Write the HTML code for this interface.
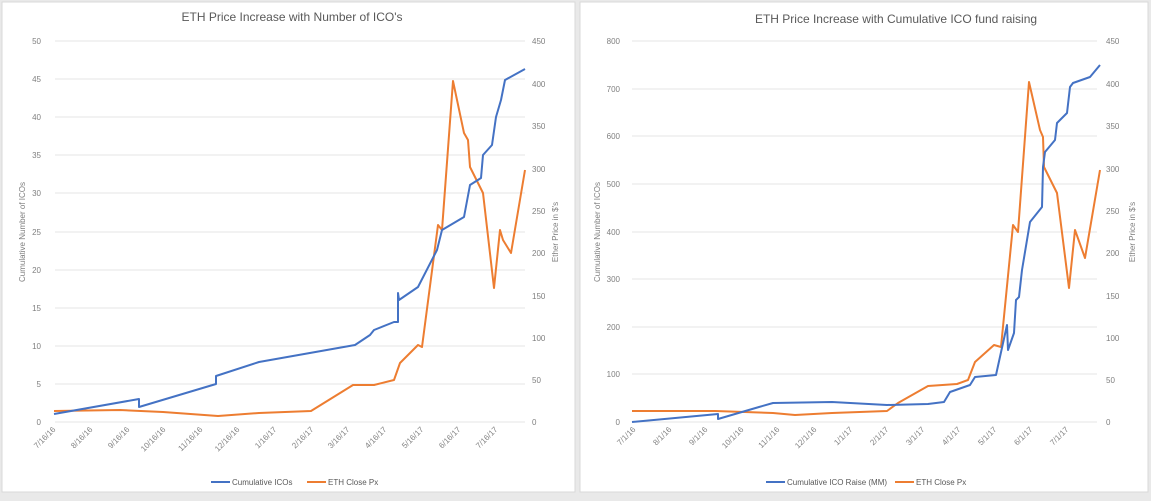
<!DOCTYPE html>
<html><head><meta charset="utf-8"><style>
html,body{margin:0;padding:0;background:#e9e9e9;}
svg{display:block;font-family:"Liberation Sans",sans-serif;}
</style></head><body>
<svg width="1151" height="501" viewBox="0 0 1151 501" xmlns="http://www.w3.org/2000/svg">
<rect x="0" y="0" width="1151" height="501" fill="#e9e9e9"/>
<rect x="2" y="2" width="573" height="490" fill="#fff" stroke="#d9d9d9"/>
<rect x="580" y="2" width="568" height="490" fill="#fff" stroke="#d9d9d9"/>

<!-- LEFT CHART -->
<text x="292" y="21" font-size="12" fill="#595959" text-anchor="middle">ETH Price Increase with Number of ICO's</text>
<g stroke="#e6e6e6" stroke-width="1">
<line x1="55" x2="525" y1="41" y2="41"/><line x1="55" x2="525" y1="79" y2="79"/>
<line x1="55" x2="525" y1="117" y2="117"/><line x1="55" x2="525" y1="155" y2="155"/>
<line x1="55" x2="525" y1="193" y2="193"/><line x1="55" x2="525" y1="232" y2="232"/>
<line x1="55" x2="525" y1="270" y2="270"/><line x1="55" x2="525" y1="308" y2="308"/>
<line x1="55" x2="525" y1="346" y2="346"/><line x1="55" x2="525" y1="384" y2="384"/>
<line x1="55" x2="525" y1="422" y2="422"/>
</g>
<g font-size="8" fill="#7f7f7f" text-anchor="end">
<text x="41" y="44">50</text><text x="41" y="82">45</text><text x="41" y="120">40</text>
<text x="41" y="158">35</text><text x="41" y="196">30</text><text x="41" y="235">25</text>
<text x="41" y="273">20</text><text x="41" y="311">15</text><text x="41" y="349">10</text>
<text x="41" y="387">5</text><text x="41" y="425">0</text>
</g>
<g font-size="8" fill="#7f7f7f" text-anchor="start">
<text x="532" y="44">450</text><text x="532" y="87">400</text><text x="532" y="129">350</text>
<text x="532" y="172">300</text><text x="532" y="214">250</text><text x="532" y="256">200</text>
<text x="532" y="299">150</text><text x="532" y="341">100</text><text x="532" y="383">50</text>
<text x="532" y="425">0</text>
</g>
<text transform="translate(25,232) rotate(-90)" font-size="8" fill="#7f7f7f" text-anchor="middle">Cumulative Number of ICOs</text>
<text transform="translate(558,232) rotate(-90)" font-size="8" fill="#7f7f7f" text-anchor="middle">Ether Price in $'s</text>
<g font-size="8" fill="#7f7f7f" text-anchor="end">
<text transform="translate(56,430) rotate(-45)">7/16/16</text>
<text transform="translate(93,430) rotate(-45)">8/16/16</text>
<text transform="translate(130,430) rotate(-45)">9/16/16</text>
<text transform="translate(166,430) rotate(-45)">10/16/16</text>
<text transform="translate(203,430) rotate(-45)">11/16/16</text>
<text transform="translate(240,430) rotate(-45)">12/16/16</text>
<text transform="translate(277,430) rotate(-45)">1/16/17</text>
<text transform="translate(314,430) rotate(-45)">2/16/17</text>
<text transform="translate(350,430) rotate(-45)">3/16/17</text>
<text transform="translate(387,430) rotate(-45)">4/16/17</text>
<text transform="translate(424,430) rotate(-45)">5/16/17</text>
<text transform="translate(461,430) rotate(-45)">6/16/17</text>
<text transform="translate(498,430) rotate(-45)">7/16/17</text>
</g>
<polyline fill="none" stroke="#ed7d31" stroke-width="2" stroke-linejoin="round" points="54,411 120,410 163,412 218,416 259,413 311,411 353,385 374,385 394,380 400,363 418,345 422,347 438,225 442,230 453,81 464,133 468,140 470,167 483,193 494,288 500,230 503,240 511,253 525,170"/>
<polyline fill="none" stroke="#4472c4" stroke-width="2" stroke-linejoin="round" points="54,414 139,399 139,407 216,384 216,376 259,362 355,345 370,335 374,330 394,322 398,322 398,293 399,300 418,287 437,250 442,230 464,217 470,185 481,178 483,155 492,145 496,117 501,100 505,80 525,69"/>
<line x1="211" x2="230" y1="482" y2="482" stroke="#4472c4" stroke-width="2"/>
<text x="232" y="485" font-size="8" fill="#595959">Cumulative ICOs</text>
<line x1="307" x2="326" y1="482" y2="482" stroke="#ed7d31" stroke-width="2"/>
<text x="328" y="485" font-size="8" fill="#595959">ETH Close Px</text>

<!-- RIGHT CHART -->
<text x="896" y="23" font-size="12" fill="#595959" text-anchor="middle">ETH Price Increase with Cumulative  ICO fund raising</text>
<g stroke="#e6e6e6" stroke-width="1">
<line x1="632" x2="1097" y1="41" y2="41"/><line x1="632" x2="1097" y1="89" y2="89"/>
<line x1="632" x2="1097" y1="136" y2="136"/><line x1="632" x2="1097" y1="184" y2="184"/>
<line x1="632" x2="1097" y1="232" y2="232"/><line x1="632" x2="1097" y1="279" y2="279"/>
<line x1="632" x2="1097" y1="327" y2="327"/><line x1="632" x2="1097" y1="374" y2="374"/>
<line x1="632" x2="1097" y1="422" y2="422"/>
</g>
<g font-size="8" fill="#7f7f7f" text-anchor="end">
<text x="620" y="44">800</text><text x="620" y="92">700</text><text x="620" y="139">600</text>
<text x="620" y="187">500</text><text x="620" y="235">400</text><text x="620" y="282">300</text>
<text x="620" y="330">200</text><text x="620" y="377">100</text><text x="620" y="425">0</text>
</g>
<g font-size="8" fill="#7f7f7f" text-anchor="start">
<text x="1106" y="44">450</text><text x="1106" y="87">400</text><text x="1106" y="129">350</text>
<text x="1106" y="172">300</text><text x="1106" y="214">250</text><text x="1106" y="256">200</text>
<text x="1106" y="299">150</text><text x="1106" y="341">100</text><text x="1106" y="383">50</text>
<text x="1106" y="425">0</text>
</g>
<text transform="translate(600,232) rotate(-90)" font-size="8" fill="#7f7f7f" text-anchor="middle">Cumulative Number of ICOs</text>
<text transform="translate(1135,232) rotate(-90)" font-size="8" fill="#7f7f7f" text-anchor="middle">Ether Price in $'s</text>
<g font-size="8" fill="#7f7f7f" text-anchor="end">
<text transform="translate(636,430) rotate(-45)">7/1/16</text>
<text transform="translate(672,430) rotate(-45)">8/1/16</text>
<text transform="translate(708,430) rotate(-45)">9/1/16</text>
<text transform="translate(744,430) rotate(-45)">10/1/16</text>
<text transform="translate(780,430) rotate(-45)">11/1/16</text>
<text transform="translate(817,430) rotate(-45)">12/1/16</text>
<text transform="translate(853,430) rotate(-45)">1/1/17</text>
<text transform="translate(889,430) rotate(-45)">2/1/17</text>
<text transform="translate(925,430) rotate(-45)">3/1/17</text>
<text transform="translate(961,430) rotate(-45)">4/1/17</text>
<text transform="translate(997,430) rotate(-45)">5/1/17</text>
<text transform="translate(1033,430) rotate(-45)">6/1/17</text>
<text transform="translate(1069,430) rotate(-45)">7/1/17</text>
</g>
<polyline fill="none" stroke="#ed7d31" stroke-width="2" stroke-linejoin="round" points="632,411 715,411 773,413 795,415 832,413 887,411 898,403 928,386 957,384 968,380 975,362 994,345 1001,347 1013,225 1018,232 1029,82 1040,130 1043,137 1044,167 1057,193 1069,288 1075,230 1085,258 1100,170"/>
<polyline fill="none" stroke="#4472c4" stroke-width="2" stroke-linejoin="round" points="632,422 718,414 718,419 759,407 773,403 832,402 887,405 928,404 944,402 950,392 970,385 975,377 996,375 1007,325 1008,350 1014,333 1016,300 1019,297 1022,270 1030,222 1042,207 1043,167 1045,152 1055,140 1057,123 1067,113 1070,87 1073,83 1090,77 1100,65"/>
<line x1="766" x2="785" y1="482" y2="482" stroke="#4472c4" stroke-width="2"/>
<text x="787" y="485" font-size="8" fill="#595959">Cumulative ICO Raise (MM)</text>
<line x1="895" x2="914" y1="482" y2="482" stroke="#ed7d31" stroke-width="2"/>
<text x="916" y="485" font-size="8" fill="#595959">ETH Close Px</text>
</svg>
</body></html>
